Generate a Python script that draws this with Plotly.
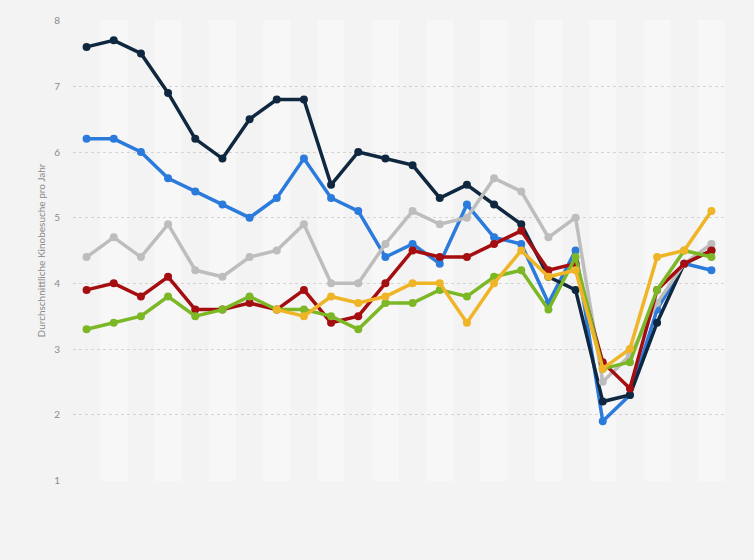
"""
Durchschnittliche Kinobesuche pro Jahr - Liniendiagramm
"""
import plotly.graph_objects as go

# Daten (Jahre als Kategorien, Achsenbeschriftung ausgeblendet)
years = [str(y) for y in range(2001, 2025)]

serie_navy = [7.6, 7.7, 7.5, 6.9, 6.2, 5.9, 6.5, 6.8, 6.8, 5.5, 6.0, 5.9,
              5.8, 5.3, 5.5, 5.2, 4.9, 4.1, 3.9, 2.2, 2.3, 3.4, 4.3, 4.5]
serie_blau = [6.2, 6.2, 6.0, 5.6, 5.4, 5.2, 5.0, 5.3, 5.9, 5.3, 5.1, 4.4,
              4.6, 4.3, 5.2, 4.7, 4.6, 3.7, 4.5, 1.9, 2.3, 3.6, 4.3, 4.2]
serie_grau = [4.4, 4.7, 4.4, 4.9, 4.2, 4.1, 4.4, 4.5, 4.9, 4.0, 4.0, 4.6,
              5.1, 4.9, 5.0, 5.6, 5.4, 4.7, 5.0, 2.5, 2.9, 3.7, 4.3, 4.6]
serie_rot = [3.9, 4.0, 3.8, 4.1, 3.6, 3.6, 3.7, 3.6, 3.9, 3.4, 3.5, 4.0,
             4.5, 4.4, 4.4, 4.6, 4.8, 4.2, 4.3, 2.8, 2.4, 3.9, 4.3, 4.5]
serie_gruen = [3.3, 3.4, 3.5, 3.8, 3.5, 3.6, 3.8, 3.6, 3.6, 3.5, 3.3, 3.7,
               3.7, 3.9, 3.8, 4.1, 4.2, 3.6, 4.4, 2.7, 2.8, 3.9, 4.5, 4.4]
serie_gelb = [None] * 7 + [3.6, 3.5, 3.8, 3.7, 3.8, 4.0, 4.0, 3.4, 4.0,
                           4.5, 4.1, 4.2, 2.7, 3.0, 4.4, 4.5, 5.1]

y_ticks = [1, 2, 3, 4, 5, 6, 7, 8]

series = [
    (serie_blau, "#2b7bdc"),
    (serie_navy, "#0f2840"),
    (serie_grau, "#bdbdbd"),
    (serie_rot, "#a50e10"),
    (serie_gruen, "#7cb726"),
    (serie_gelb, "#efb526"),
]

fig = go.Figure()
for werte, farbe in series:
    fig.add_trace(go.Scatter(
        x=years, y=werte, mode="lines+markers",
        line=dict(color=farbe, width=3.5),
        marker=dict(color=farbe, size=8),
        connectgaps=False, showlegend=False,
    ))

# abwechselnde Hintergrundstreifen
for i, jahr in enumerate(years):
    if i % 2 == 1:
        fig.add_vrect(x0=i - 0.5, x1=i + 0.5, fillcolor="#f7f7f7",
                      opacity=1, line_width=0, layer="below", y0=0, y1=1)

fig.update_layout(
    width=754, height=560,
    paper_bgcolor="#f3f3f3", plot_bgcolor="#f3f3f3",
    margin=dict(l=73, r=29, t=20, b=79),
    font=dict(family="Lato, Arial, sans-serif", color="#8a8a8a", size=10),
)

fig.update_xaxes(type="category", range=[-0.5, len(years) - 0.5],
                 showticklabels=False, showgrid=False, zeroline=False,
                 showline=False, ticks="")
fig.update_yaxes(range=[0.99, 8.01], tickvals=y_ticks, showgrid=True,
                 gridcolor="#d4d4d4", griddash="dot", gridwidth=1,
                 zeroline=False, showline=False, ticks="",
                 ticklabelstandoff=12,
                 title=dict(text="Durchschnittliche Kinobesuche pro Jahr",
                            font=dict(size=10, color="#8a8a8a"), standoff=6))

# Seitenrand des Browsers entfernen
fig.write_html("out.html", config={"displayModeBar": False},
               post_script="document.body.style.margin='0';")
